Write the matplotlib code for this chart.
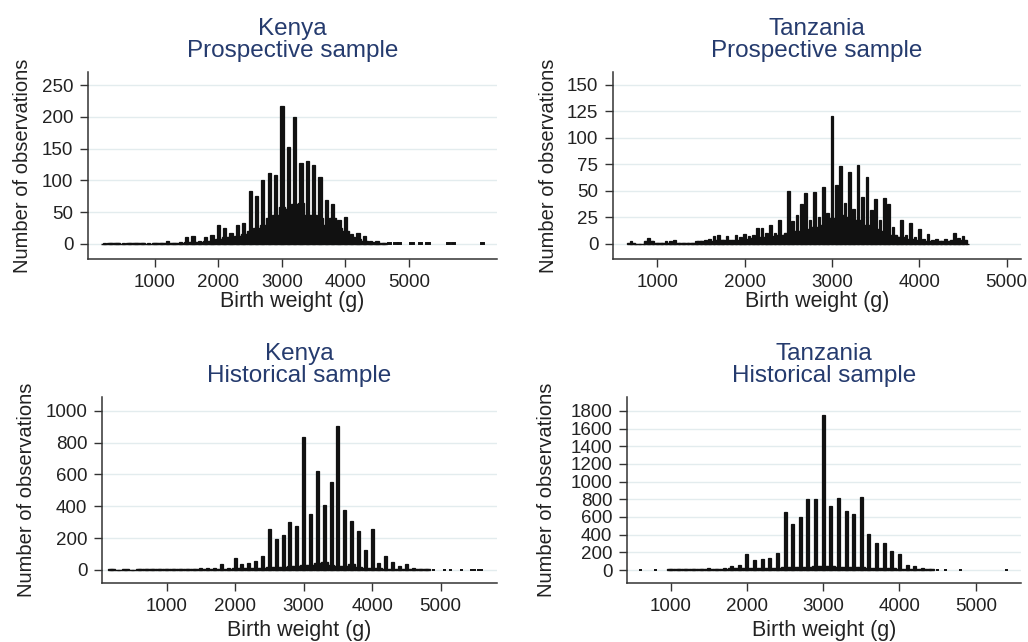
import matplotlib.pyplot as plt
import numpy as np

plt.rcParams["font.family"] = ["Liberation Sans", "DejaVu Sans"]

# Kenya, prospective sample (counts at each 100 g, from 200 g)
kp_start = 200
kp_heap = [1, 1, 1, 1, 1, 1, 1, 1, 1,
           2, 4, 2, 3, 10, 13, 5, 10, 14,
           30, 25, 17, 30, 33, 84, 75, 101, 112, 108,
           218, 152, 200, 127, 130, 125, 106, 69, 62, 38,
           42, 15, 17, 12, 5, 5, 2]
kp_base = [0, 1, 1, 0, 1, 1, 1, 0, 1,
           1, 2, 2, 2, 3, 3, 3, 4, 5,
           8, 10, 10, 12, 15, 20, 25, 30, 40, 45,
           58, 55, 63, 65, 45, 45, 40, 30, 40, 25,
           20, 10, 8, 5, 3, 2, 1]
kp_tail = [4700, 4800, 4850, 5050, 5180, 5300, 5620, 5700, 6160]

# Tanzania, prospective sample (from 700 g); half = counts at +50 g
tp_start = 700
tp_heap = [2, 0, 5, 1, 2, 3, 1, 1, 2, 4,
           8, 7, 8, 9, 8, 15, 18, 22, 50, 27,
           48, 49, 53, 120, 73, 68, 74, 63, 42, 43,
           16, 22, 19, 14, 9, 4, 4, 10, 7]
tp_half = [0, 0, 2, 1, 2, 1, 1, 2, 3, 7,
           3, 2, 6, 7, 15, 10, 10, 8, 21, 37,
           22, 25, 29, 55, 38, 33, 44, 32, 22, 37,
           6, 8, 6, 4, 3, 2, 2, 5, 0]
tp_base = [1, 0, 2, 1, 1, 1, 1, 1, 2, 2,
           3, 3, 3, 4, 5, 6, 7, 8, 10, 12,
           14, 16, 18, 24, 27, 25, 22, 18, 14, 12,
           8, 6, 4, 3, 2, 2, 2, 3, 3]
tp_tail = []

# Kenya, historical sample (from 200 g)
kh_start = 200
kh_heap = [3, 2, 2, 2, 3, 3, 4, 4, 5, 5,
           5, 5, 8, 15, 10, 10, 35, 10, 75, 35,
           45, 55, 85, 255, 195, 220, 300, 275, 835, 350,
           620, 405, 555, 905, 378, 305, 245, 125, 255, 45,
           90, 50, 25, 40, 10, 5, 4]
kh_base = [4, 0, 4, 0, 5, 5, 5, 5, 5, 5,
           5, 5, 6, 6, 8, 8, 8, 8, 10, 12,
           12, 14, 15, 16, 18, 20, 22, 25, 28, 30,
           45, 50, 30, 25, 22, 35, 18, 14, 12, 10,
           8, 6, 5, 5, 4, 4, 4]
kh_tail = [4900, 5050, 5150, 5300, 5450, 5500, 5550, 5600]

# Tanzania, historical sample (from 1000 g)
th_start = 1000
th_heap = [10, 10, 8, 10, 10, 20, 15, 20, 40, 57,
           177, 113, 125, 135, 190, 653, 521, 604, 804, 800,
           1751, 728, 815, 668, 630, 830, 408, 302, 309, 219,
           181, 55, 45, 20, 10]
th_base = [10, 10, 10, 10, 10, 12, 12, 15, 18, 20,
           22, 22, 24, 25, 28, 32, 34, 36, 38, 40,
           42, 40, 38, 36, 34, 30, 26, 22, 20, 18,
           15, 12, 10, 8, 6]
th_tail = [600, 800, 4500, 4600, 4800, 5400]

TITLE_C = "#253b6e"
INK = "#111111"
AX_C = "#333333"

fig = plt.figure(figsize=(10.28, 6.42), dpi=100)


def draw_panel(rect, title, start, heap, base, tail, half, xlim, ylim,
               yticks, bar_w, ylab_x, xlab_y):
    ax = fig.add_axes(rect)
    w = start + 100 * np.arange(len(heap))
    ax.bar(w, base, width=100, color=INK, edgecolor=INK, lw=1.0, zorder=2)
    if half:
        ax.bar(w + 50, half, width=bar_w, color=INK, edgecolor=INK,
               lw=0.9, zorder=3)
    ax.bar(w, heap, width=bar_w, color=INK, edgecolor=INK, lw=0.9, zorder=3)
    if tail:
        ax.bar(tail, np.ones(len(tail)), width=bar_w, color=INK,
               edgecolor=INK, lw=1.4, zorder=3)

    ax.set_xlim(*xlim)
    ax.set_ylim(*ylim)
    ax.set_xticks([1000, 2000, 3000, 4000, 5000])
    ax.set_yticks(yticks)
    ax.yaxis.grid(True, color="#e3ecee", lw=1.0)
    ax.set_axisbelow(True)
    for s in ["top", "right"]:
        ax.spines[s].set_visible(False)
    for s in ["left", "bottom"]:
        ax.spines[s].set_color(AX_C)
        ax.spines[s].set_linewidth(1.1)
    ax.tick_params(direction="out", length=5.5, width=1, color=AX_C,
                   labelsize=13.5, labelcolor="#222222", pad=5)

    ax.set_title(title, fontsize=17.5, color=TITLE_C, linespacing=0.98,
                 pad=11)
    ax.set_xlabel("Birth weight (g)", fontsize=15.5, color="#222222")
    ax.set_ylabel("Number of observations", fontsize=14.5, color="#222222")
    ax.yaxis.set_label_coords(ylab_x, 0.5)
    ax.xaxis.set_label_coords(0.5, xlab_y)
    return ax


draw_panel([0.0856, 0.5966, 0.3979, 0.2913], "Kenya\nProspective sample",
           kp_start, kp_heap, kp_base, kp_tail, None,
           (-55, 6390), (-24, 271), range(0, 251, 50), 52, -0.137, -0.17)
draw_panel([0.5963, 0.5966, 0.3969, 0.2913], "Tanzania\nProspective sample",
           tp_start, tp_heap, tp_base, tp_tail, tp_half,
           (493, 5165), (-14.5, 162), range(0, 151, 25), 30, -0.135, -0.17)
draw_panel([0.0992, 0.0919, 0.3842, 0.2897], "Kenya\nHistorical sample",
           kh_start, kh_heap, kh_base, kh_tail, None,
           (56, 5822), (-82, 1086), range(0, 1001, 200), 44, -0.167, -0.2)
draw_panel([0.6099, 0.0919, 0.3833, 0.2897], "Tanzania\nHistorical sample",
           th_start, th_heap, th_base, th_tail, None,
           (427, 5594), (-147, 1958), range(0, 1801, 200), 38, -0.18, -0.2)

fig.savefig("out.png", dpi=100)
